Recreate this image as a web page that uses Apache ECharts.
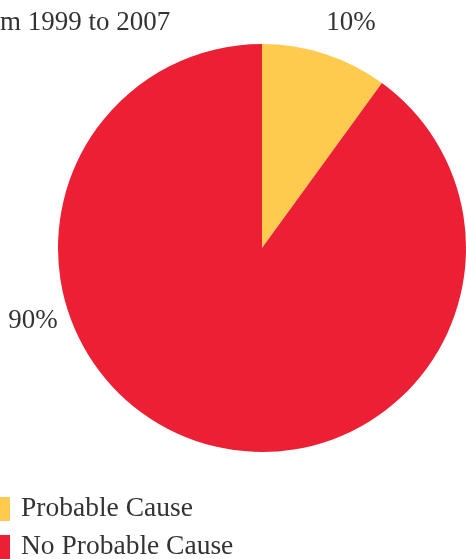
<!DOCTYPE html>
<html>
<head>
<meta charset="utf-8">
<script src="https://cdn.jsdelivr.net/npm/echarts@6/dist/echarts.min.js"></script>
<style>
  html, body { margin: 0; padding: 0; background: #ffffff; }
  #chart { width: 466px; height: 559px; }
</style>
</head>
<body>
<div id="chart"></div>
<script>
// Share of cases, 1999–2007
const categories = ['Probable Cause', 'No Probable Cause'];
const shares = [10, 90];
const sliceColors = ['#FECB4F', '#EC1F35'];
const titleText = 'm 1999 to 2007';

// Where each percentage label sits (label anchors, in pixels)
const labelSpots = [[351, 23], [33, 321]];

const FONT = '"Liberation Serif", "DejaVu Serif", serif';
const TEXT_COLOR = '#333333';

const chart = echarts.init(document.getElementById('chart'), null, { renderer: 'canvas' });

chart.setOption({
  animation: false,
  backgroundColor: '#ffffff',
  title: {
    text: titleText,
    left: 0,
    top: 9,
    padding: 0,
    textStyle: { fontFamily: FONT, fontSize: 27, fontWeight: 'normal', color: TEXT_COLOR }
  },
  legend: {
    orient: 'vertical',
    left: -14,
    top: 495,
    height: 80,
    padding: 0,
    itemWidth: 24,
    itemHeight: 24,
    itemGap: 10,
    icon: 'rect',
    selectedMode: false,
    data: categories,
    textStyle: {
      fontFamily: FONT,
      fontSize: 27.5,
      color: TEXT_COLOR,
      lineHeight: 24,
      padding: [0, 0, 0, 6]
    }
  },
  series: [{
    type: 'pie',
    center: [262, 248],
    radius: 204,
    startAngle: 90,
    clockwise: true,
    silent: true,
    data: categories.map((name, i) => ({
      name,
      value: shares[i],
      itemStyle: { color: sliceColors[i] }
    })),
    label: {
      show: true,
      position: 'outside',
      formatter: '{c}%',
      fontFamily: FONT,
      fontSize: 27,
      color: TEXT_COLOR
    },
    labelLine: { show: false },
    labelLayout: function (params) {
      const spot = labelSpots[params.dataIndex];
      return { x: spot[0], y: spot[1], align: 'center', verticalAlign: 'middle', hideOverlap: false };
    }
  }]
});
</script>
</body>
</html>
